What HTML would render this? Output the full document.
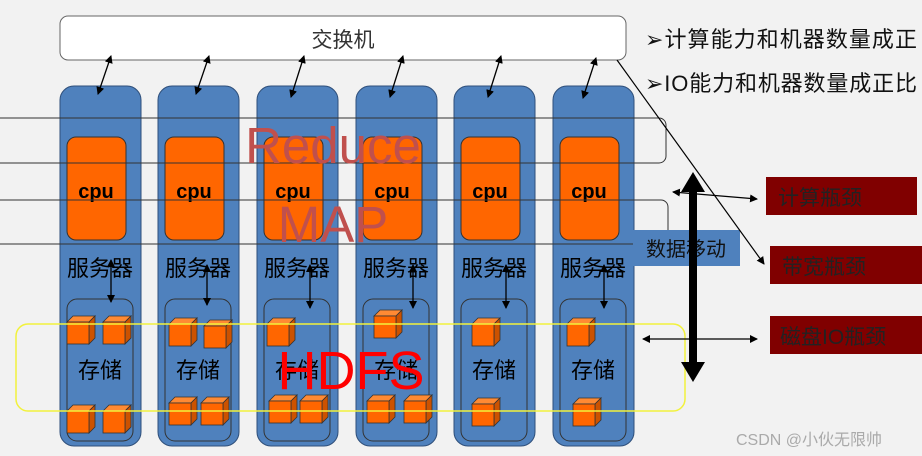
<!DOCTYPE html>
<html><head><meta charset="utf-8"><style>
html,body{margin:0;padding:0;background:#f2f2f2;}
svg{display:block;}
text{font-family:"Liberation Sans","Noto Sans CJK SC",sans-serif;}
</style></head><body>
<svg width="922" height="456" viewBox="0 0 922 456" xmlns="http://www.w3.org/2000/svg">
<defs>
<marker id="a" markerWidth="8" markerHeight="8" refX="7" refY="4" orient="auto" markerUnits="userSpaceOnUse"><path d="M0,0 L8,4 L0,8 z" fill="#000"/></marker>
<marker id="as" markerWidth="8" markerHeight="8" refX="1" refY="4" orient="auto" markerUnits="userSpaceOnUse"><path d="M8,0 L0,4 L8,8 z" fill="#000"/></marker>
<g id="cube"><path d="M0,6 L6,0 L28,0 L22,6 z" fill="#ff8a33" stroke="#333" stroke-width="0.8"/><path d="M22,6 L28,0 L28,22 L22,28 z" fill="#cc5200" stroke="#333" stroke-width="0.8"/><rect x="0" y="6" width="22" height="22" fill="#ff6600" stroke="#333" stroke-width="0.8"/></g>
<g id="col">
<rect x="0" y="86" width="81" height="360" rx="14" fill="#4f81bd" stroke="#2f4f7a"/>
<rect x="7" y="137" width="59" height="103" rx="9" fill="#ff6600" stroke="#333"/>
<text x="36" y="198" font-size="20" font-weight="bold" text-anchor="middle">cpu</text>
<text x="40" y="276" font-size="22" text-anchor="middle">服务器</text>
<rect x="7" y="299" width="66" height="142" rx="10" fill="none" stroke="#333"/>
<text x="40" y="378" font-size="22" text-anchor="middle">存储</text>
</g>
</defs>
<rect width="922" height="456" fill="#f2f2f2"/>
<rect x="60" y="16" width="566" height="44" rx="8" fill="#fff" stroke="#666" stroke-width="1"/>
<text x="343" y="47" font-size="21" text-anchor="middle" fill="#333">交换机</text>
<use href="#col" x="60"/><use href="#col" x="158"/><use href="#col" x="257"/>
<use href="#col" x="356"/><use href="#col" x="454"/><use href="#col" x="553"/>
<g stroke="#000" stroke-width="1.3">
<line x1="111" y1="56" x2="98" y2="94" marker-end="url(#a)" marker-start="url(#as)"/>
<line x1="209" y1="56" x2="196" y2="94" marker-end="url(#a)" marker-start="url(#as)"/>
<line x1="304" y1="56" x2="291" y2="97" marker-end="url(#a)" marker-start="url(#as)"/>
<line x1="403" y1="56" x2="390" y2="97" marker-end="url(#a)" marker-start="url(#as)"/>
<line x1="501" y1="56" x2="488" y2="97" marker-end="url(#a)" marker-start="url(#as)"/>
<line x1="596" y1="58" x2="583" y2="98" marker-end="url(#a)" marker-start="url(#as)"/>
<line x1="111" y1="260" x2="111" y2="302" marker-end="url(#a)" marker-start="url(#as)"/>
<line x1="207" y1="265" x2="207" y2="305" marker-end="url(#a)" marker-start="url(#as)"/>
<line x1="310" y1="265" x2="310" y2="308" marker-end="url(#a)" marker-start="url(#as)"/>
<line x1="413" y1="265" x2="413" y2="308" marker-end="url(#a)" marker-start="url(#as)"/>
<line x1="506" y1="265" x2="506" y2="308" marker-end="url(#a)" marker-start="url(#as)"/>
<line x1="604" y1="265" x2="604" y2="308" marker-end="url(#a)" marker-start="url(#as)"/>
</g>
<use href="#cube" x="67" y="316"/><use href="#cube" x="103" y="316"/>
<use href="#cube" x="67" y="405"/><use href="#cube" x="103" y="405"/>
<use href="#cube" x="169" y="318"/><use href="#cube" x="204" y="320"/>
<use href="#cube" x="169" y="397"/><use href="#cube" x="201" y="397"/>
<use href="#cube" x="267" y="318"/>
<use href="#cube" x="269" y="395"/><use href="#cube" x="300" y="395"/>
<use href="#cube" x="374" y="310"/>
<use href="#cube" x="367" y="395"/><use href="#cube" x="404" y="395"/>
<use href="#cube" x="472" y="318"/>
<use href="#cube" x="472" y="398"/>
<use href="#cube" x="567" y="318"/>
<use href="#cube" x="573" y="398"/>
<rect x="-10" y="118" width="676" height="45" rx="7" fill="none" stroke="#333" stroke-width="1"/>
<rect x="-10" y="200" width="678" height="44" rx="7" fill="none" stroke="#333" stroke-width="1"/>
<text x="333" y="163" font-size="51" text-anchor="middle" fill="#c0504d">Reduce</text>
<text x="333" y="242" font-size="51" text-anchor="middle" fill="#c0504d">MAP</text>
<rect x="16" y="324" width="669" height="87" rx="12" fill="none" stroke="#f2f23c" stroke-width="1.5"/>
<text x="351" y="389" font-size="54" text-anchor="middle" fill="#ff0000">HDFS</text>
<rect x="633" y="230" width="107" height="36" fill="#4f81bd"/>
<text x="686" y="256" font-size="20" text-anchor="middle" fill="#111">数据移动</text>
<line x1="693" y1="190" x2="693" y2="364" stroke="#000" stroke-width="8"/>
<path d="M681,192 L693,172 L705,192 z M681,362 L693,382 L705,362 z" fill="#000"/>
<line x1="617" y1="60" x2="764" y2="264" stroke="#000" stroke-width="1.2" marker-end="url(#a)"/>
<line x1="673" y1="192" x2="757" y2="199" stroke="#000" stroke-width="1.2" marker-end="url(#a)" marker-start="url(#as)"/>
<line x1="643" y1="339" x2="757" y2="339" stroke="#000" stroke-width="1.2" marker-end="url(#a)" marker-start="url(#as)"/>
<rect x="766" y="177" width="151" height="38" fill="#800000"/>
<text x="778" y="205" font-size="21" fill="#222" font-family="Liberation Serif,Noto Serif CJK SC,serif">计算瓶颈</text>
<rect x="770" y="246" width="152" height="38" fill="#800000"/>
<text x="782" y="274" font-size="21" fill="#222" font-family="Liberation Serif,Noto Serif CJK SC,serif">带宽瓶颈</text>
<rect x="770" y="316" width="152" height="38" fill="#800000"/>
<text x="780" y="344" font-size="21" fill="#222" font-family="Liberation Serif,Noto Serif CJK SC,serif">磁盘IO瓶颈</text>
<text x="645" y="47" font-size="22" fill="#111" textLength="272">➢计算能力和机器数量成正</text>
<text x="645" y="91" font-size="22" fill="#111" textLength="272">➢IO能力和机器数量成正比</text>
<text x="736" y="445" font-size="16" fill="#aaa">CSDN @小伙无限帅</text>
</svg>
</body></html>
